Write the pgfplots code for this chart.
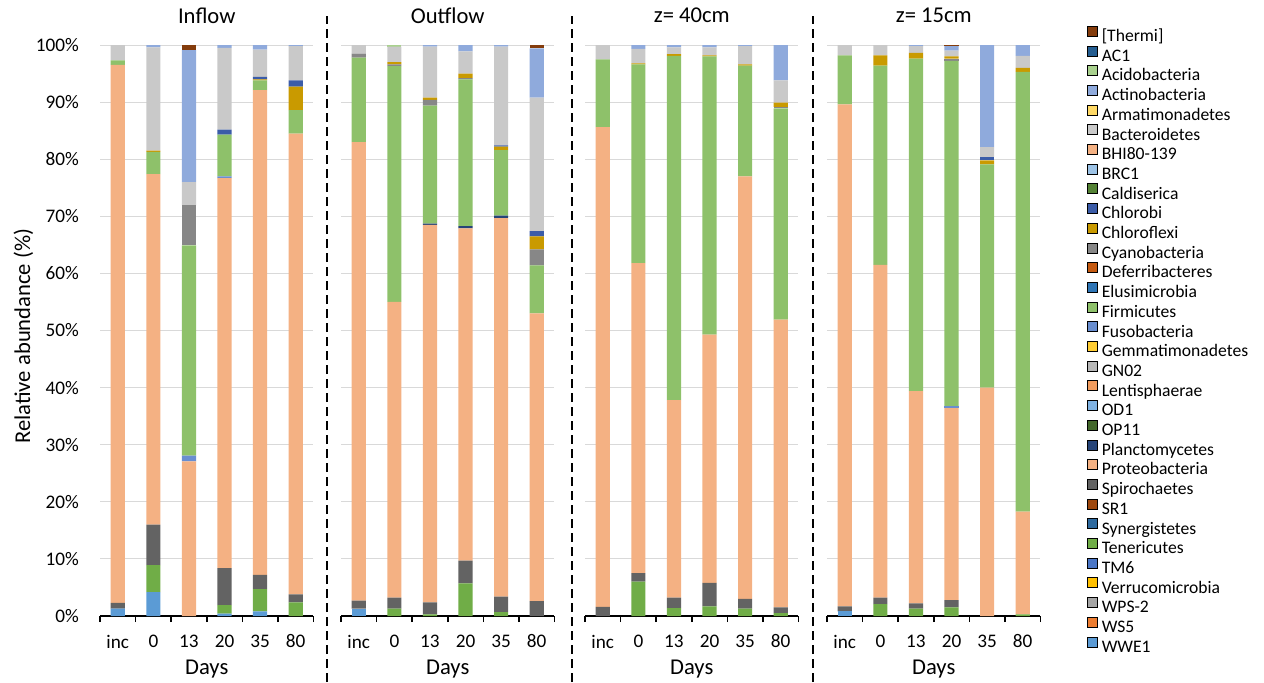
\documentclass[border=0pt]{standalone}
\usepackage{fontspec}
\setmainfont{Carlito}
\usepackage{pgfplots}
\usepackage{pgfplotstable}
\pgfplotsset{compat=1.18}

\definecolor{cThe}{HTML}{843C0C}
\definecolor{cAC1}{HTML}{255E91}
\definecolor{cAci}{HTML}{A9D18E}
\definecolor{cAct}{HTML}{8FAADC}
\definecolor{cArm}{HTML}{FFD966}
\definecolor{cBac}{HTML}{C9C9C9}
\definecolor{cBHI}{HTML}{F4B183}
\definecolor{cBRC}{HTML}{9DC3E6}
\definecolor{cCal}{HTML}{548235}
\definecolor{cChb}{HTML}{3B5CA8}
\definecolor{cChf}{HTML}{C99A00}
\definecolor{cCya}{HTML}{878787}
\definecolor{cDef}{HTML}{C55A11}
\definecolor{cElu}{HTML}{2E75B6}
\definecolor{cFir}{HTML}{8EC16A}
\definecolor{cFus}{HTML}{698ED0}
\definecolor{cGem}{HTML}{FFCD33}
\definecolor{cGN}{HTML}{B7B7B7}
\definecolor{cLen}{HTML}{F19C5E}
\definecolor{cOD}{HTML}{7FB2E2}
\definecolor{cOP}{HTML}{43682B}
\definecolor{cPla}{HTML}{264478}
\definecolor{cPro}{HTML}{F4B183}
\definecolor{cSpi}{HTML}{636363}
\definecolor{cSR}{HTML}{9E480E}
\definecolor{cSyn}{HTML}{2E6A9F}
\definecolor{cTen}{HTML}{70AD47}
\definecolor{cTM}{HTML}{4A76C6}
\definecolor{cVer}{HTML}{FFC000}
\definecolor{cWPS}{HTML}{A5A5A5}
\definecolor{cWS}{HTML}{ED7D31}
\definecolor{cWWE}{HTML}{5B9BD5}

% Inflow
\pgfplotstableread{
x WWE1 Ten Spi Pro Pla Fus Fir Cya Chf Chb Bac Act Aci The
0 1.3 0   1.0 94.2 0   0   0.8  0   0   0   2.7  0    0   0
1 4.2 4.7 7.1 61.4 0   0   3.9  0   0.2 0   18.1 0.4  0   0
2 0   0   0   27.1 0   1.0 36.8 7.0 0   0   4.1  23.1 0   0.9
3 0.4 1.5 6.5 68.3 0   0.3 7.3  0   0   0.9 14.3 0.5  0   0
4 0.8 3.9 2.5 84.9 0   0   1.7  0   0.2 0.4 4.8  0.8  0   0
5 0   2.4 1.4 80.7 0   0   4.1  0   4.1 1.1 6.0  0.2  0   0
}\tIn
% Outflow
\pgfplotstableread{
x WWE1 Ten Spi Pro Pla Fus Fir Cya Chf Chb Bac Act Aci The
0 1.3 0   1.4 80.3 0   0   14.8 0.7 0   0   1.5  0    0   0
1 0   1.3 1.9 51.8 0   0   41.3 0.3 0.4 0   2.7  0    0.3 0
2 0   0.3 2.1 66.1 0.2 0   20.7 1.0 0.4 0   8.9  0.3  0   0
3 0   5.7 4.0 58.2 0.4 0   25.7 0.2 0.8 0   3.9  1.1  0   0
4 0   0.7 2.7 66.3 0.4 0   11.5 0   0.6 0.2 17.3 0.3  0   0
5 0   0   2.6 50.4 0   0   8.4  2.8 2.3 0.9 23.4 8.6  0   0.6
}\tOut
% z = 40 cm
\pgfplotstableread{
x WWE1 Ten Spi Pro Pla Fus Fir Cya Chf Chb Bac Act Aci The
0 0   0   1.6 84.0 0   0   11.9 0   0   0   2.5  0    0   0
1 0   6.0 1.5 54.3 0   0   34.8 0   0.2 0   2.5  0.7  0   0
2 0   1.4 1.8 34.6 0   0   60.3 0   0.3 0   1.2  0.4  0   0
3 0   1.7 4.1 43.5 0   0   48.7 0   0.2 0   1.4  0.4  0   0
4 0   1.3 1.7 74.0 0   0   19.4 0   0.2 0   3.2  0.2  0   0
5 0   0.5 1.0 50.4 0   0   37.0 0.2 0.8 0   3.9  6.2  0   0
}\tA
% z = 15 cm
\pgfplotstableread{
x WWE1 Ten Spi Pro Pla Fus Fir Cya Chf Chb Bac Act Aci The
0 0.8 0   0.9 87.9 0   0   8.6  0   0   0   1.8  0    0   0
1 0   2.1 1.1 58.3 0   0   34.9 0   1.8 0   1.8  0    0   0
2 0   1.3 0.9 37.2 0   0   58.2 0   1.0 0   1.2  0.2  0   0
3 0   1.5 1.3 33.6 0   0.3 60.5 0.4 0.4 0   1.0  0.8  0   0.2
4 0   0   0   40.0 0   0   39.1 0   0.7 0.6 1.7  17.9 0   0
5 0   0.3 0   18.0 0   0   77.0 0   0.7 0   2.1  1.9  0   0
}\tB

\newcommand{\stack}[1]{%
\addplot[fill=cWWE] table[x=x,y=WWE1]{#1};
\addplot[fill=cTen] table[x=x,y=Ten]{#1};
\addplot[fill=cSpi] table[x=x,y=Spi]{#1};
\addplot[fill=cPro] table[x=x,y=Pro]{#1};
\addplot[fill=cPla] table[x=x,y=Pla]{#1};
\addplot[fill=cFus] table[x=x,y=Fus]{#1};
\addplot[fill=cFir] table[x=x,y=Fir]{#1};
\addplot[fill=cCya] table[x=x,y=Cya]{#1};
\addplot[fill=cChf] table[x=x,y=Chf]{#1};
\addplot[fill=cChb] table[x=x,y=Chb]{#1};
\addplot[fill=cBac] table[x=x,y=Bac]{#1};
\addplot[fill=cAct] table[x=x,y=Act]{#1};
\addplot[fill=cAci] table[x=x,y=Aci]{#1};
\addplot[fill=cThe] table[x=x,y=The]{#1};
}

\pgfplotsset{
 panel/.style={
  scale only axis, width=106.75pt, height=285.5pt,
  anchor=south west,
  ybar stacked, bar width=0.4,
  xmin=-0.5, xmax=5.5, ymin=0, ymax=100,
  axis x line*=bottom, axis y line*=left,
  y axis line style={draw=none},
  x axis line style={line width=0.8pt, black},
  xtick={0,1,2,3,4,5}, xticklabels={inc,0,13,20,35,80},
  minor xtick={-0.5,0.5,1.5,2.5,3.5,4.5,5.5},
  major tick length=0pt, minor tick length=3pt,
  tick align=outside,
  xtick style={black, line width=0.8pt},
  ytick={0,10,20,30,40,50,60,70,80,90,100},
  ytick style={draw=none},
  ymajorgrids,
  major grid style={color=black!15, line width=0.5pt},
  xticklabel style={font=\fontsize{9.6pt}{11pt}\selectfont, anchor=center, yshift=-12.75pt, inner sep=0pt},
  yticklabel style={font=\fontsize{9.6pt}{11pt}\selectfont, anchor=east, inner sep=0pt, xshift=-10.35pt},
  yticklabels={},
  xlabel={Days},
  xlabel style={font=\fontsize{11.3pt}{13pt}\selectfont, at={(axis description cs:0.5,-0.0928)}, anchor=center},
  title style={font=\fontsize{11.3pt}{13pt}\selectfont, at={(axis description cs:0.5,1.0307)}, anchor=center},
  every axis plot/.append style={draw=none},
 }
}

\begin{document}
\begin{tikzpicture}
\useasboundingbox (0,0) rectangle (632pt,341pt);

\begin{axis}[panel, at={(50pt,33pt)}, title={Inflow},
  yticklabels={0\%,10\%,20\%,30\%,40\%,50\%,60\%,70\%,80\%,90\%,100\%},
  ylabel={Relative abundance (\%)},
  ylabel style={font=\fontsize{11.3pt}{13pt}\selectfont, at={(axis description cs:-0.359,0.49)}, anchor=center}]
\stack{\tIn}
\end{axis}

\begin{axis}[panel, at={(170.5pt,33pt)}, title={Outflow}]
\stack{\tOut}
\end{axis}

\begin{axis}[panel, at={(292.5pt,33pt)}, title={z= 40cm}]
\stack{\tA}
\end{axis}

\begin{axis}[panel, at={(413.5pt,33pt)}, title={z= 15cm}]
\stack{\tB}
\end{axis}

% legend
\begin{axis}[scale only axis, width=106.75pt, height=285.5pt, anchor=south west,
  at={(413.5pt,33pt)}, hide axis, xmin=0, xmax=1, ymin=0, ymax=1,
  legend image code/.code={\fill[#1] (0pt,0.3pt) rectangle (5pt,5.3pt);},
  legend cell align=left,
  legend style={at={(axis description cs:1.2178,1.0336)}, anchor=north west,
    draw=none, fill=none, inner sep=0pt, outer sep=0pt,
    font=\fontsize{8.8pt}{9.8pt}\selectfont,
    nodes={inner sep=0pt, text height=6.5pt, text depth=1.8pt},
    row sep=0.2pt, column sep=2pt}]
\addlegendimage{fill=cThe}\addlegendentry{{[Thermi]}}
\addlegendimage{fill=cAC1}\addlegendentry{AC1}
\addlegendimage{fill=cAci}\addlegendentry{Acidobacteria}
\addlegendimage{fill=cAct}\addlegendentry{Actinobacteria}
\addlegendimage{fill=cArm}\addlegendentry{Armatimonadetes}
\addlegendimage{fill=cBac}\addlegendentry{Bacteroidetes}
\addlegendimage{fill=cBHI}\addlegendentry{BHI80-139}
\addlegendimage{fill=cBRC}\addlegendentry{BRC1}
\addlegendimage{fill=cCal}\addlegendentry{Caldiserica}
\addlegendimage{fill=cChb}\addlegendentry{Chlorobi}
\addlegendimage{fill=cChf}\addlegendentry{Chloroflexi}
\addlegendimage{fill=cCya}\addlegendentry{Cyanobacteria}
\addlegendimage{fill=cDef}\addlegendentry{Deferribacteres}
\addlegendimage{fill=cElu}\addlegendentry{Elusimicrobia}
\addlegendimage{fill=cFir}\addlegendentry{Firmicutes}
\addlegendimage{fill=cFus}\addlegendentry{Fusobacteria}
\addlegendimage{fill=cGem}\addlegendentry{Gemmatimonadetes}
\addlegendimage{fill=cGN}\addlegendentry{GN02}
\addlegendimage{fill=cLen}\addlegendentry{Lentisphaerae}
\addlegendimage{fill=cOD}\addlegendentry{OD1}
\addlegendimage{fill=cOP}\addlegendentry{OP11}
\addlegendimage{fill=cPla}\addlegendentry{Planctomycetes}
\addlegendimage{fill=cPro}\addlegendentry{Proteobacteria}
\addlegendimage{fill=cSpi}\addlegendentry{Spirochaetes}
\addlegendimage{fill=cSR}\addlegendentry{SR1}
\addlegendimage{fill=cSyn}\addlegendentry{Synergistetes}
\addlegendimage{fill=cTen}\addlegendentry{Tenericutes}
\addlegendimage{fill=cTM}\addlegendentry{TM6}
\addlegendimage{fill=cVer}\addlegendentry{Verrucomicrobia}
\addlegendimage{fill=cWPS}\addlegendentry{WPS-2}
\addlegendimage{fill=cWS}\addlegendentry{WS5}
\addlegendimage{fill=cWWE}\addlegendentry{WWE1}
\end{axis}

% dashed separators between panels
\draw[black, line width=1pt, dash pattern=on 4.5pt off 2.5pt] (163.5pt,0pt) -- (163.5pt,333pt);
\draw[black, line width=1pt, dash pattern=on 4.5pt off 2.5pt] (286pt,0pt) -- (286pt,333pt);
\draw[black, line width=1pt, dash pattern=on 4.5pt off 2.5pt] (406.5pt,0pt) -- (406.5pt,333pt);
\end{tikzpicture}
\end{document}
